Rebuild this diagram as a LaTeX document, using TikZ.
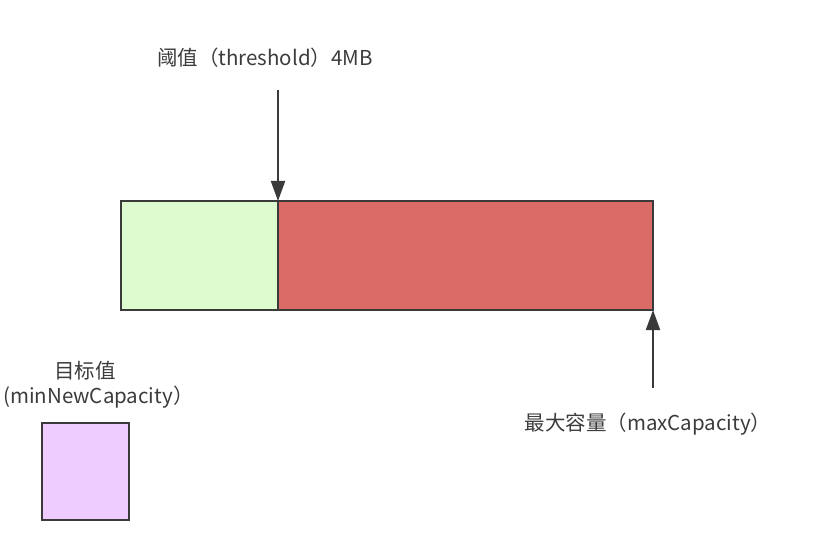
\documentclass[tikz,border=0pt]{standalone}
\usepackage{fontspec}
\setmainfont{Noto Sans CJK SC}
\usetikzlibrary{arrows.meta}
\definecolor{freeGreen}{HTML}{DDFBCF}
\definecolor{usedRed}{HTML}{DA6B67}
\definecolor{goalPurple}{HTML}{EFCCFF}
\definecolor{edge}{HTML}{3A3A3A}
\definecolor{txt}{HTML}{3C3C3C}
\tikzset{
  block/.style={draw=edge, line width=2pt, inner sep=0pt, outer sep=0pt},
  lbl/.style={text=txt, font=\fontsize{20.5}{24}\selectfont, inner sep=0pt},
  pointer/.style={draw=edge, line width=2pt, -{Triangle[length=20pt,width=14pt]}}
}
\begin{document}
\begin{tikzpicture}[x=1pt,y=-1pt]
        \useasboundingbox (0,0) rectangle (813,534);
        \node[block, fill=freeGreen, minimum width=157pt, minimum height=109pt, anchor=north west] (low) at (121,201) {};
        \node[block, fill=usedRed, minimum width=375pt, minimum height=109pt, anchor=north west] (high) at (278,201) {};
        \node[block, fill=goalPurple, minimum width=87pt, minimum height=97pt, anchor=north west] (goal) at (42,423) {};
        \node[lbl] (thr) at (265,58) {阈值（threshold）4MB};
        \node[lbl] (max) at (648,424) {最大容量（maxCapacity）};
        \node[lbl] (goalname) at (85,371) {目标值};
        \node[lbl, anchor=west] (goalvar) at (3,397) {(minNewCapacity）};
        \coordinate (thrtail) at ([yshift=111pt]low.north east);
        \coordinate (maxtail) at ([yshift=-78pt]high.south east);
        \draw[pointer] (thrtail) -- (low.north east);
        \draw[pointer] (maxtail) -- (high.south east);
    \end{tikzpicture}
\end{document}
